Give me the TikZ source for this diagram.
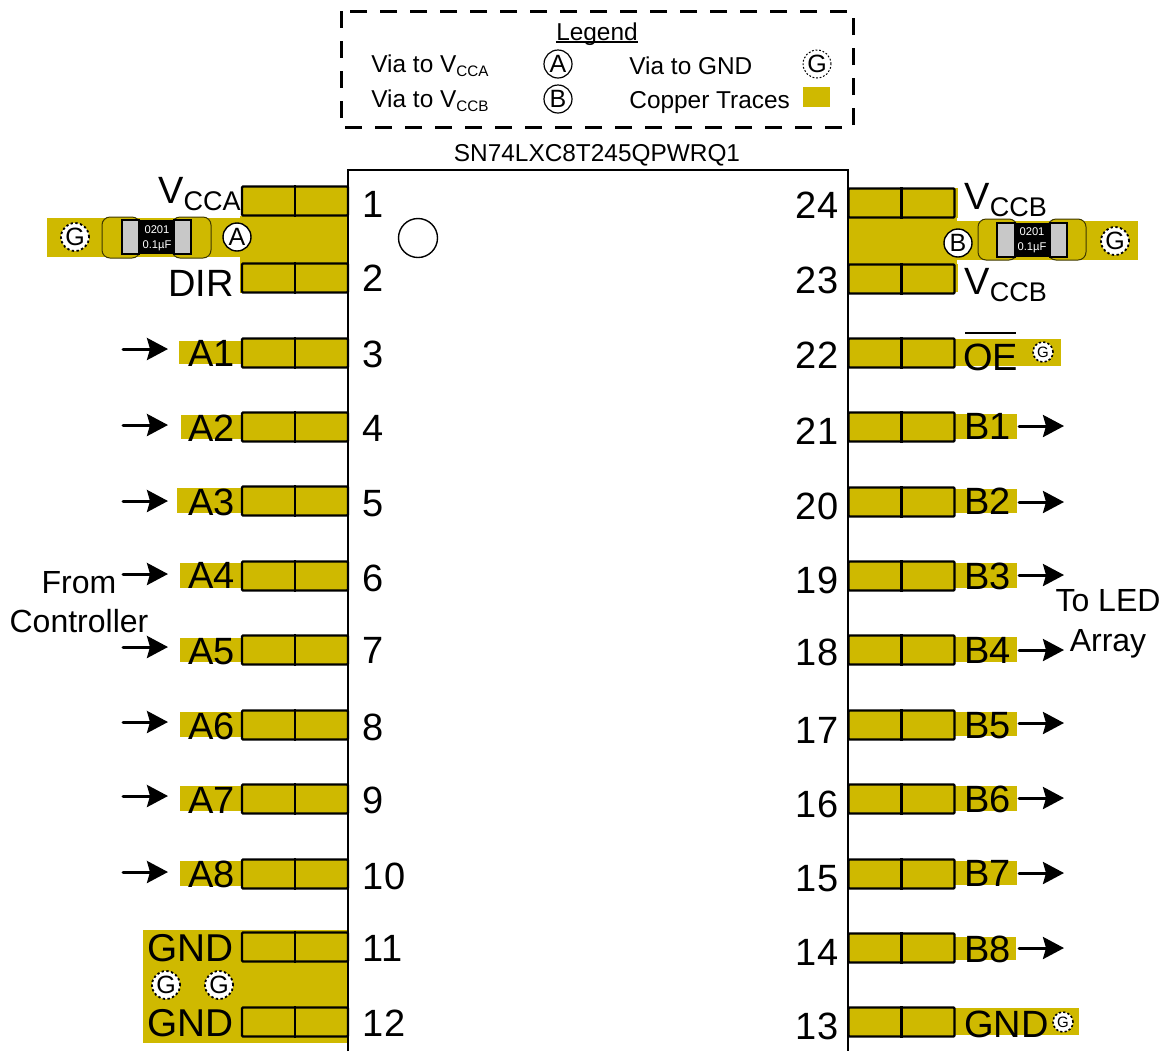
\documentclass[tikz,border=0pt]{standalone}
\usepackage{fontspec}
\setmainfont{Liberation Sans}
\usetikzlibrary{arrows.meta}
\definecolor{copper}{RGB}{207,185,0}
\definecolor{term}{RGB}{200,200,200}
\newcommand{\fs}[1]{\fontsize{#1}{#1}\selectfont}
\newcommand{\subt}[1]{\raisebox{-2.2pt}{\fs{7.6}#1}}
\newcommand{\subb}[1]{\raisebox{-3.5pt}{\fs{13.5}#1}}
\tikzset{
  x=0.5pt,y=-0.5pt,
  trace/.style={fill=copper,draw=none},
  pad/.style={draw=black,fill=copper,line width=1.1pt,minimum width=53pt,minimum height=14.5pt,inner sep=0pt,rounded corners=0.5pt},
  big/.style={font=\fs{19},inner sep=0pt},
  mid/.style={font=\fs{16},inner sep=0pt},
  small/.style={font=\fs{12.2},inner sep=0pt},
  sig/.style={line width=1.5pt,line cap=round,-{Stealth[length=10.5pt,width=11pt,inset=1.5pt]}},
  via/.style={circle,draw=black,fill=white,line width=0.7pt,minimum size=14pt,inner sep=0pt,font=\fs{12.5}},
  gvia/.style={circle,draw=black,fill=white,line width=0.9pt,dash pattern=on 1.2pt off 1.2pt,minimum size=14pt,inner sep=0pt},
  gvias/.style={circle,draw=black,fill=white,line width=0.8pt,dash pattern=on 1.1pt off 1.1pt,minimum size=10pt,inner sep=0pt},
  capland/.style={fill=copper,draw=black!70!copper,line width=0.5pt,rounded corners=4pt},
  capbody/.style={fill=black},
  capterm/.style={fill=term,draw=black,line width=1pt},
  captext/.style={text=white,font=\fs{5.6},inner sep=0pt},
}
\begin{document}
\begin{tikzpicture}
\useasboundingbox (0,0) rectangle (1165,1051);
% copper
\fill[trace] (47,218) rectangle (242,257);
\fill[trace] (240,216) rectangle (348,264);
\fill[trace] (848,216) rectangle (957,264);
\fill[trace] (957,221) rectangle (1138,260);
\fill[trace] (143,930) rectangle (348,1043);
\fill[trace] (848,188) rectangle (958,218);
\fill[trace] (848,264) rectangle (958,292);
\fill[trace] (240,264) rectangle (348,293);
\foreach \xa/\ya/\yb in {179/341/364,181/415/439,177/488/513,180/563/588,180/638/662,180/712/737,180/786/811,180/861/886}
  \fill[trace] (\xa,\ya) rectangle (242,\yb);
\foreach \xb/\ya/\yb in {1061/339/366,1017/414/439,1017/489/513,1017/563/588,1017/637/662,1017/712/736,1017/786/811,1017/861/885,1016/937/960,1079/1008/1035}
  \fill[trace] (955,\ya) rectangle (\xb,\yb);
% left pads
\foreach \n/\y/\ny in {1/201/217,2/278/291,3/353/367,4/427/441,5/501/516,6/576/591,7/650/663,8/725/740,9/799/813,10/874/889,11/947/961,12/1022/1036}{
  \node[pad] (pl\n) at (295,\y) {};
  \draw[line width=1.1pt] (pl\n.north) -- (pl\n.south);
  \node[big,anchor=base west] (nl\n) at (362.5,\ny) {\n};
}
% right pads
\foreach \n/\y/\ny in {24/203/218,23/279/293,22/353/368,21/427/444,20/502/519,19/576/593,18/650/665,17/725/743,16/799/817,15/874/891,14/948/965,13/1022/1039}{
  \node[pad] (pr\n) at (901.5,\y) {};
  \draw[line width=1.1pt] (pr\n.north) -- (pr\n.south);
  \node[big,anchor=base] (nr\n) at (817,\ny) {\n};
}
% IC body
\coordinate (icbl) at (348,1051);
\coordinate (ictl) at (348,170);
\coordinate (ictr) at (848,170);
\coordinate (icbr) at (848,1051);
\draw[line width=1.25pt] (icbl) -- (ictl) -- (ictr) -- (icbr);
\node[circle,draw=black,line width=0.7pt,minimum size=19.5pt,inner sep=0pt] (orient) at (418,238) {};
% left labels
\node[big,anchor=base east] (vcca) at (241,203) {V\subb{CCA}};
\node[big,anchor=base east] (dir) at (234,296) {DIR};
\foreach \n/\y/\ny in {1/353/366,2/427/441,3/501/515,4/576/588,5/650/664,6/725/739,7/799/813,8/874/887}
  \node[big,anchor=base east] (la\n) at (235,\ny) {A\n};
\node[big,anchor=base east,font=\fs{19.4}] (gnda) at (234,961) {GND};
\node[big,anchor=base east,font=\fs{19.4}] (gndb) at (234,1036) {GND};
% right labels
\node[big,anchor=base west] (vccb) at (964,209) {V\subb{CCB}};
\node[big,anchor=base west] (vccc) at (964,294) {V\subb{CCB}};
\node[big,anchor=base west] (oe) at (963,370) {OE};
\coordinate (oea) at (965,333);
\coordinate (oeb) at (1016,333);
\draw[line width=1.1pt] (oea) -- (oeb);
\foreach \n/\y/\ny in {1/427/439,2/502/514,3/576/589,4/650/663,5/725/738,6/799/812,7/874/886,8/948/962}
  \node[big,anchor=base west] (lb\n) at (964,\ny) {B\n};
\node[big,anchor=base west] (gndc) at (964,1037) {GND};
% arrows
\foreach \n/\y in {1/349,2/425,3/501,4/574,5/647,6/722,7/796,8/872}{
  \coordinate (ain\n) at (123,\y);
  \coordinate (atip\n) at (168,\y);
  \draw[sig] (ain\n) -- (atip\n);
}
\foreach \n/\y in {1/426,2/502,3/575,4/650,5/723,6/798,7/873,8/948}{
  \coordinate (bin\n) at (1019,\y);
  \coordinate (btip\n) at (1064,\y);
  \draw[sig] (bin\n) -- (btip\n);
}
\node[mid,anchor=base] (from) at (79,593) {From};
\node[mid,anchor=base] (ctrl) at (79,632) {Controller};
\node[mid,anchor=base] (toled) at (1108,611) {To LED};
\node[mid,anchor=base] (arr) at (1108,651) {Array};
% left capacitor
\draw[capland] (102,217) rectangle (140,258);
\draw[capland] (172,217) rectangle (211,258);
\fill[capbody] (122,220) rectangle (191,254);
\draw[capterm] (122,220) rectangle (139,254);
\draw[capterm] (174,220) rectangle (191,254);
\node[captext] (ca1) at (157,230) {0201};
\node[captext] (ca2) at (157,246) {0.1µF};
% right capacitor
\draw[capland] (978,219) rectangle (1017,260);
\draw[capland] (1048,219) rectangle (1086,260);
\fill[capbody] (997,223) rectangle (1067,257);
\draw[capterm] (997,223) rectangle (1015,257);
\draw[capterm] (1050,223) rectangle (1067,257);
\node[captext] (cb1) at (1032,232) {0201};
\node[captext] (cb2) at (1032,248) {0.1µF};
% vias
\node[gvia] (g1) at (75,237) {\fs{12.5}G};
\node[via] (va) at (237,237) {A};
\node[via] (vb) at (958,243) {B};
\node[gvia] (g2) at (1115,241) {\fs{12.5}G};
\node[gvias] (g3) at (1043,352) {\fs{7.5}G};
\node[gvias] (g4) at (1063,1022) {\fs{7.5}G};
\node[gvia] (g5) at (166,985) {\fs{12.5}G};
\node[gvia] (g6) at (219,985) {\fs{12.5}G};
% legend
\coordinate (lga) at (341,11);
\coordinate (lgb) at (853,127);
\draw[line width=1.5pt,dash pattern=on 8.5pt off 6.5pt] (lga) rectangle (lgb);
\node[small,anchor=base] (lt) at (597,40) {Legend};
\draw[line width=0.6pt] ([yshift=-1pt]lt.base west) -- ([yshift=-1pt]lt.base east);
\node[small,anchor=base west] (l1) at (371,72) {Via to V\subt{CCA}};
\node[small,anchor=base west] (l2) at (371,107) {Via to V\subt{CCB}};
\node[small,anchor=base west] (l3) at (629,74) {Via to GND};
\node[small,anchor=base west] (l4) at (629,108) {Copper Traces};
\node[via,draw=black,line width=0.6pt] (la) at (558,64) {A};
\node[via,draw=black,line width=0.6pt] (lb) at (558,99) {B};
\node[gvia,line width=0.5pt,dash pattern=on 0.9pt off 0.9pt] (lg) at (817,64) {\fs{12.5}G};
\fill[trace] (803,87) rectangle (830,107);
\node[small,anchor=base] (title) at (597,161) {SN74LXC8T245QPWRQ1};
\end{tikzpicture}
\end{document}
